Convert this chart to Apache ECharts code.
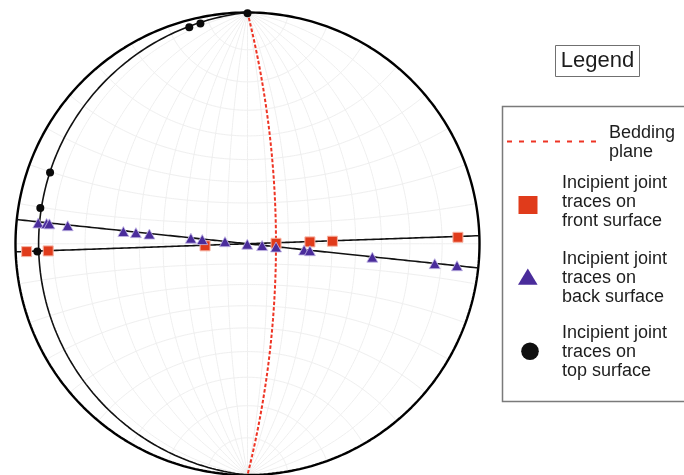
<!DOCTYPE html>
<html>
<head>
<meta charset="utf-8">
<script src="https://cdn.jsdelivr.net/npm/echarts@6/dist/echarts.min.js"></script>
<style>
html,body{margin:0;padding:0;background:#fff;}
#chart{width:684px;height:475px;}
</style>
</head>
<body>
<div id="chart"></div>
<script>
// ---- Planes (strike, right-hand rule / dip, degrees) ----
const planeNames   = ['Bedding plane', 'Top surface joints', 'Front surface joints', 'Back surface joints'];
const planeStrikes = [0, 180, 88, 96];
const planeDips    = [76, 6, 90, 90];

// ---- Incipient joint traces (position on the equal-angle net, unit radius) ----
const frontX = [-0.952, -0.859, -0.183, 0.123, 0.269, 0.366, 0.907];
const frontY = [-0.034, -0.031, -0.009, 0.002, 0.008, 0.011, 0.028];

const backX = [-0.902, -0.866, -0.854, -0.775, -0.535, -0.481, -0.423, -0.244, -0.195, -0.097, -0.001, 0.063, 0.123, 0.244, 0.269, 0.538, 0.807, 0.903];
const backY = [0.090, 0.088, 0.086, 0.078, 0.053, 0.048, 0.042, 0.024, 0.018, 0.009, -0.002, -0.008, -0.014, -0.027, -0.030, -0.058, -0.086, -0.095];

const topX = [0.000, -0.203, -0.251, -0.851, -0.893, -0.906];
const topY = [0.997, 0.952, 0.936, 0.308, 0.155, -0.034];

// ---- Net settings ----
const netStep = 10; // degrees between net lines

const legendTitle = 'Legend';
const legendLabels = [
  'Bedding\nplane',
  'Incipient joint\ntraces on\nfront surface',
  'Incipient joint\ntraces on\nback surface',
  'Incipient joint\ntraces on\ntop surface'
];

// ---- stereographic (equal-angle, lower hemisphere) helpers ----
const rad = Math.PI / 180;
function project(v) {
  const z = Math.max(0, v[2]);
  const k = 1 / (1 + z);
  return [v[0] * k, v[1] * k];
}
function greatCircle(strike, dip) {
  const s = strike * rad, d = dip * rad, dd = s + Math.PI / 2;
  const S = [Math.sin(s), Math.cos(s), 0];
  const D = [Math.cos(d) * Math.sin(dd), Math.cos(d) * Math.cos(dd), Math.sin(d)];
  const pts = [];
  for (let i = 0; i <= 180; i++) {
    const p = i * rad;
    const v = [S[0] * Math.cos(p) + D[0] * Math.sin(p),
               S[1] * Math.cos(p) + D[1] * Math.sin(p),
               S[2] * Math.cos(p) + D[2] * Math.sin(p)];
    pts.push(project(v));
  }
  return pts;
}
function smallCircleNS(alpha, sign) {
  const a = alpha * rad, pts = [];
  for (let i = 0; i <= 180; i++) {
    const t = i * rad;
    pts.push(project([Math.sin(a) * Math.cos(t), sign * Math.cos(a), Math.sin(a) * Math.sin(t)]));
  }
  return pts;
}

// net lines
const netLines = [];
for (let d = netStep; d <= 90; d += netStep) {
  netLines.push({ coords: greatCircle(0, d) });
  if (d < 90) netLines.push({ coords: greatCircle(180, d) });
}
for (let a = netStep; a <= 90; a += netStep) {
  netLines.push({ coords: smallCircleNS(a, 1) });
  if (a < 90) netLines.push({ coords: smallCircleNS(a, -1) });
}

// primitive
const primitive = [];
for (let i = 0; i <= 360; i++) primitive.push([Math.sin(i * rad), Math.cos(i * rad)]);

const zip = (xs, ys) => xs.map((x, i) => [x, ys[i]]);

const chart = echarts.init(document.getElementById('chart'), null, { renderer: 'canvas' });

const planeStyles = [
  { color: '#ee3424', width: 2, type: [3.5, 2] },
  { color: '#111111', width: 1.6, type: 'solid' },
  { color: '#111111', width: 1.6, type: 'solid' },
  { color: '#111111', width: 1.6, type: 'solid' }
];

const series = [
  {
    type: 'lines', coordinateSystem: 'cartesian2d', polyline: true, silent: true,
    lineStyle: { color: '#efefef', width: 1, opacity: 1 },
    data: netLines, z: 1
  },
  {
    type: 'line', data: [[-1.018, 0], [-1.0, 0]], showSymbol: false, clip: false,
    lineStyle: { color: '#222', width: 1 }, z: 2
  },
  {
    type: 'line', data: [[1.0, 0], [1.018, 0]], showSymbol: false, clip: false,
    lineStyle: { color: '#222', width: 1 }, z: 2
  },
  {
    type: 'line', data: primitive, showSymbol: false, clip: false,
    lineStyle: { color: '#000', width: 2.4 }, z: 3
  }
];
// draw black planes first, bedding last
[1, 2, 3, 0].forEach(i => {
  series.push({
    name: planeNames[i], type: 'line', data: greatCircle(planeStrikes[i], planeDips[i]),
    showSymbol: false, clip: false, lineStyle: planeStyles[i], z: i === 0 ? 5 : 4
  });
});
series.push({
  name: 'front', type: 'scatter', data: zip(frontX, frontY), symbol: 'rect', symbolSize: [10, 10],
  itemStyle: { color: '#e03b1b', borderColor: '#f6b4a4', borderWidth: 1, opacity: 1 }, z: 7
});
series.push({
  name: 'back', type: 'scatter', data: zip(backX, backY), symbol: 'triangle', symbolSize: [11, 10],
  itemStyle: { color: '#4a2c9b', borderColor: '#c2b6e6', borderWidth: 0.8, opacity: 1 }, z: 8
});
series.push({
  name: 'top', type: 'scatter', data: zip(topX, topY), symbol: 'circle', symbolSize: 8,
  itemStyle: { color: '#0a0a0a', opacity: 1 }, z: 9
});

const font = '"Liberation Sans", Arial, sans-serif';
const textFill = '#1d1d1d';
const lblX = 562;

chart.setOption({
  animation: false,
  backgroundColor: '#ffffff',
  grid: { left: 15.5, top: 12.5, width: 464, height: 464, containLabel: false },
  xAxis: { type: 'value', min: -1, max: 1, show: false },
  yAxis: { type: 'value', min: -1, max: 1, show: false },
  series: series,
  graphic: [
    { type: 'rect', shape: { x: 555.5, y: 45.5, width: 84, height: 31 },
      style: { fill: '#fff', stroke: '#707070', lineWidth: 1 } },
    { type: 'text', x: 597.5, y: 61,
      style: { text: legendTitle, font: '22px ' + font, fill: textFill, align: 'center', verticalAlign: 'middle' } },
    { type: 'rect', shape: { x: 502.5, y: 106.5, width: 220, height: 295 },
      style: { fill: 'none', stroke: '#7a7a7a', lineWidth: 1.5 } },
    { type: 'line', shape: { x1: 507, y1: 141.5, x2: 596, y2: 141.5 },
      style: { stroke: '#ee3424', lineWidth: 2, lineDash: [5, 7] } },
    { type: 'text', x: 609, y: 143,
      style: { text: legendLabels[0], font: '18px ' + font, fill: textFill, align: 'left', verticalAlign: 'middle', lineHeight: 19 } },
    { type: 'rect', shape: { x: 518.5, y: 196, width: 19, height: 18 },
      style: { fill: '#e03b1b' } },
    { type: 'text', x: lblX, y: 202,
      style: { text: legendLabels[1], font: '18px ' + font, fill: textFill, align: 'left', verticalAlign: 'middle', lineHeight: 19 } },
    { type: 'polygon', shape: { points: [[527.8, 268.5], [518, 284.8], [537.6, 284.8]] },
      style: { fill: '#4a2c9b' } },
    { type: 'text', x: lblX, y: 278,
      style: { text: legendLabels[2], font: '18px ' + font, fill: textFill, align: 'left', verticalAlign: 'middle', lineHeight: 19 } },
    { type: 'circle', shape: { cx: 530, cy: 351.3, r: 8.8 },
      style: { fill: '#0f0f0f' } },
    { type: 'text', x: lblX, y: 352,
      style: { text: legendLabels[3], font: '18px ' + font, fill: textFill, align: 'left', verticalAlign: 'middle', lineHeight: 19 } }
  ]
});
</script>
</body>
</html>
